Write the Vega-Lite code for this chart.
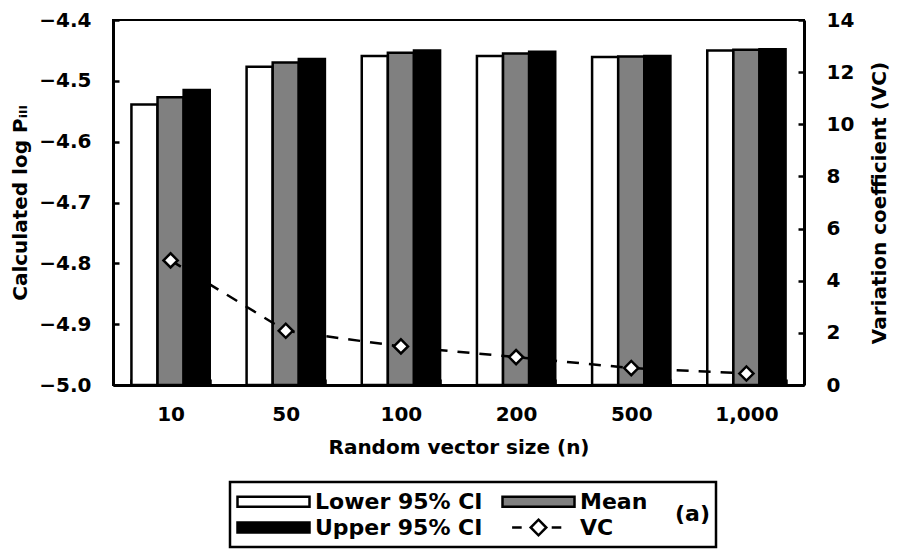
{
  "$schema": "https://vega.github.io/schema/vega-lite/v6.json",
  "width": 691,
  "height": 365,
  "autosize": {"type": "none"},
  "padding": {"left": 113, "top": 20, "right": 95, "bottom": 169},
  "background": "white",
  "config": {
    "font": "DejaVu Sans",
    "view": {"stroke": "black", "strokeWidth": 2},
    "axis": {
      "labelFont": "DejaVu Sans",
      "labelFontWeight": "bold",
      "labelFontSize": 20,
      "labelColor": "black",
      "titleFont": "DejaVu Sans",
      "titleFontWeight": "bold",
      "titleFontSize": 20,
      "titleColor": "black",
      "domainColor": "black",
      "domainWidth": 3,
      "tickColor": "black",
      "tickWidth": 2.5,
      "tickSize": -6,
      "grid": false
    }
  },
  "datasets": {
    "bars": [
      {"n": "10", "series": "Lower 95% CI", "value": -4.539},
      {"n": "10", "series": "Mean", "value": -4.527},
      {"n": "10", "series": "Upper 95% CI", "value": -4.515},
      {"n": "50", "series": "Lower 95% CI", "value": -4.477},
      {"n": "50", "series": "Mean", "value": -4.470},
      {"n": "50", "series": "Upper 95% CI", "value": -4.464},
      {"n": "100", "series": "Lower 95% CI", "value": -4.459},
      {"n": "100", "series": "Mean", "value": -4.454},
      {"n": "100", "series": "Upper 95% CI", "value": -4.450},
      {"n": "200", "series": "Lower 95% CI", "value": -4.459},
      {"n": "200", "series": "Mean", "value": -4.455},
      {"n": "200", "series": "Upper 95% CI", "value": -4.452},
      {"n": "500", "series": "Lower 95% CI", "value": -4.461},
      {"n": "500", "series": "Mean", "value": -4.460},
      {"n": "500", "series": "Upper 95% CI", "value": -4.459},
      {"n": "1,000", "series": "Lower 95% CI", "value": -4.450},
      {"n": "1,000", "series": "Mean", "value": -4.449},
      {"n": "1,000", "series": "Upper 95% CI", "value": -4.448}
    ],
    "vc": [
      {"n": "10", "vc": 4.78},
      {"n": "50", "vc": 2.08},
      {"n": "100", "vc": 1.48},
      {"n": "200", "vc": 1.07},
      {"n": "500", "vc": 0.65},
      {"n": "1,000", "vc": 0.44}
    ]
  },
  "layer": [
    {
      "data": {"name": "bars"},
      "mark": {"type": "bar", "stroke": "black", "strokeWidth": 2.5},
      "encoding": {
        "x": {
          "field": "n",
          "type": "nominal",
          "sort": ["10", "50", "100", "200", "500", "1,000"],
          "scale": {"paddingInner": 0.32, "paddingOuter": 0.16},
          "axis": {
            "title": "Random vector size (n)",
            "labelAngle": 0,
            "labelPadding": 25,
            "titlePadding": 13,
            "tickBand": "extent"
          }
        },
        "xOffset": {
          "field": "series",
          "type": "nominal",
          "sort": ["Lower 95% CI", "Mean", "Upper 95% CI"],
          "scale": {"paddingInner": 0, "paddingOuter": 0}
        },
        "y": {
          "field": "value",
          "type": "quantitative",
          "scale": {"domain": [-5.0, -4.4], "zero": false, "nice": false},
          "axis": {
            "title": "Calculated log Pᵢₗₗ",
            "orient": "left",
            "values": [-5.0, -4.9, -4.8, -4.7, -4.6, -4.5, -4.4],
            "format": ".1f",
            "labelPadding": 28,
            "titlePadding": 8
          }
        },
        "y2": {"datum": -5.0},
        "fill": {
          "field": "series",
          "type": "nominal",
          "scale": {
            "domain": ["Lower 95% CI", "Mean", "Upper 95% CI", "VC"],
            "range": ["white", "#808080", "black", "white"]
          },
          "legend": {
            "orient": "none",
            "direction": "horizontal",
            "legendX": 117,
            "legendY": 462,
            "columns": 2,
            "title": "(a)",
            "titleOrient": "right",
            "titleAnchor": "middle",
            "titleBaseline": "middle",
            "titlePadding": 28,
            "titleFont": "DejaVu Sans",
            "titleFontWeight": "bold",
            "titleFontSize": 22,
            "titleColor": "black",
            "strokeColor": "black",
            "padding": 6,
            "labelFont": "DejaVu Sans",
            "labelFontWeight": "bold",
            "labelFontSize": 22,
            "labelColor": "black",
            "labelLimit": 300,
            "symbolSize": 576,
            "symbolType": "M-3,-0.42H3V0.42H-3Z",
            "symbolStrokeColor": "black",
            "symbolStrokeWidth": 2.5,
            "symbolOffset": 24,
            "labelOffset": 28,
            "columnPadding": 14,
            "rowPadding": 1,
            "encode": {
              "legend": {"update": {"strokeWidth": {"value": 2.5}}},
              "symbols": {
                "update": {
                  "shape": {"signal": "datum.value === 'VC' ? 'M-2.2,0H-1.4M0,-0.65L0.65,0L0,0.65L-0.65,0ZM1.1,0H1.9' : 'M-3,-0.42H3V0.42H-3Z'"},
                  "stroke": {"value": "black"}
                }
              }
            }
          }
        }
      }
    },
    {
      "data": {"name": "vc"},
      "encoding": {
        "x": {"field": "n", "type": "nominal", "sort": ["10", "50", "100", "200", "500", "1,000"]},
        "y": {
          "field": "vc",
          "type": "quantitative",
          "scale": {"domain": [0, 14], "nice": false},
          "axis": {
            "title": "Variation coefficient (VC)",
            "orient": "right",
            "values": [0, 2, 4, 6, 8, 10, 12, 14],
            "labelPadding": 28,
            "titlePadding": 36,
            "titleAngle": -90
          }
        }
      },
      "layer": [
        {"mark": {"type": "line", "color": "black", "strokeWidth": 2.5, "strokeDash": [12, 10]}},
        {"mark": {"type": "point", "shape": "diamond", "filled": true, "fill": "white", "stroke": "black", "strokeWidth": 2.5, "size": 200, "opacity": 1}}
      ]
    }
  ],
  "resolve": {"scale": {"y": "independent"}}
}
